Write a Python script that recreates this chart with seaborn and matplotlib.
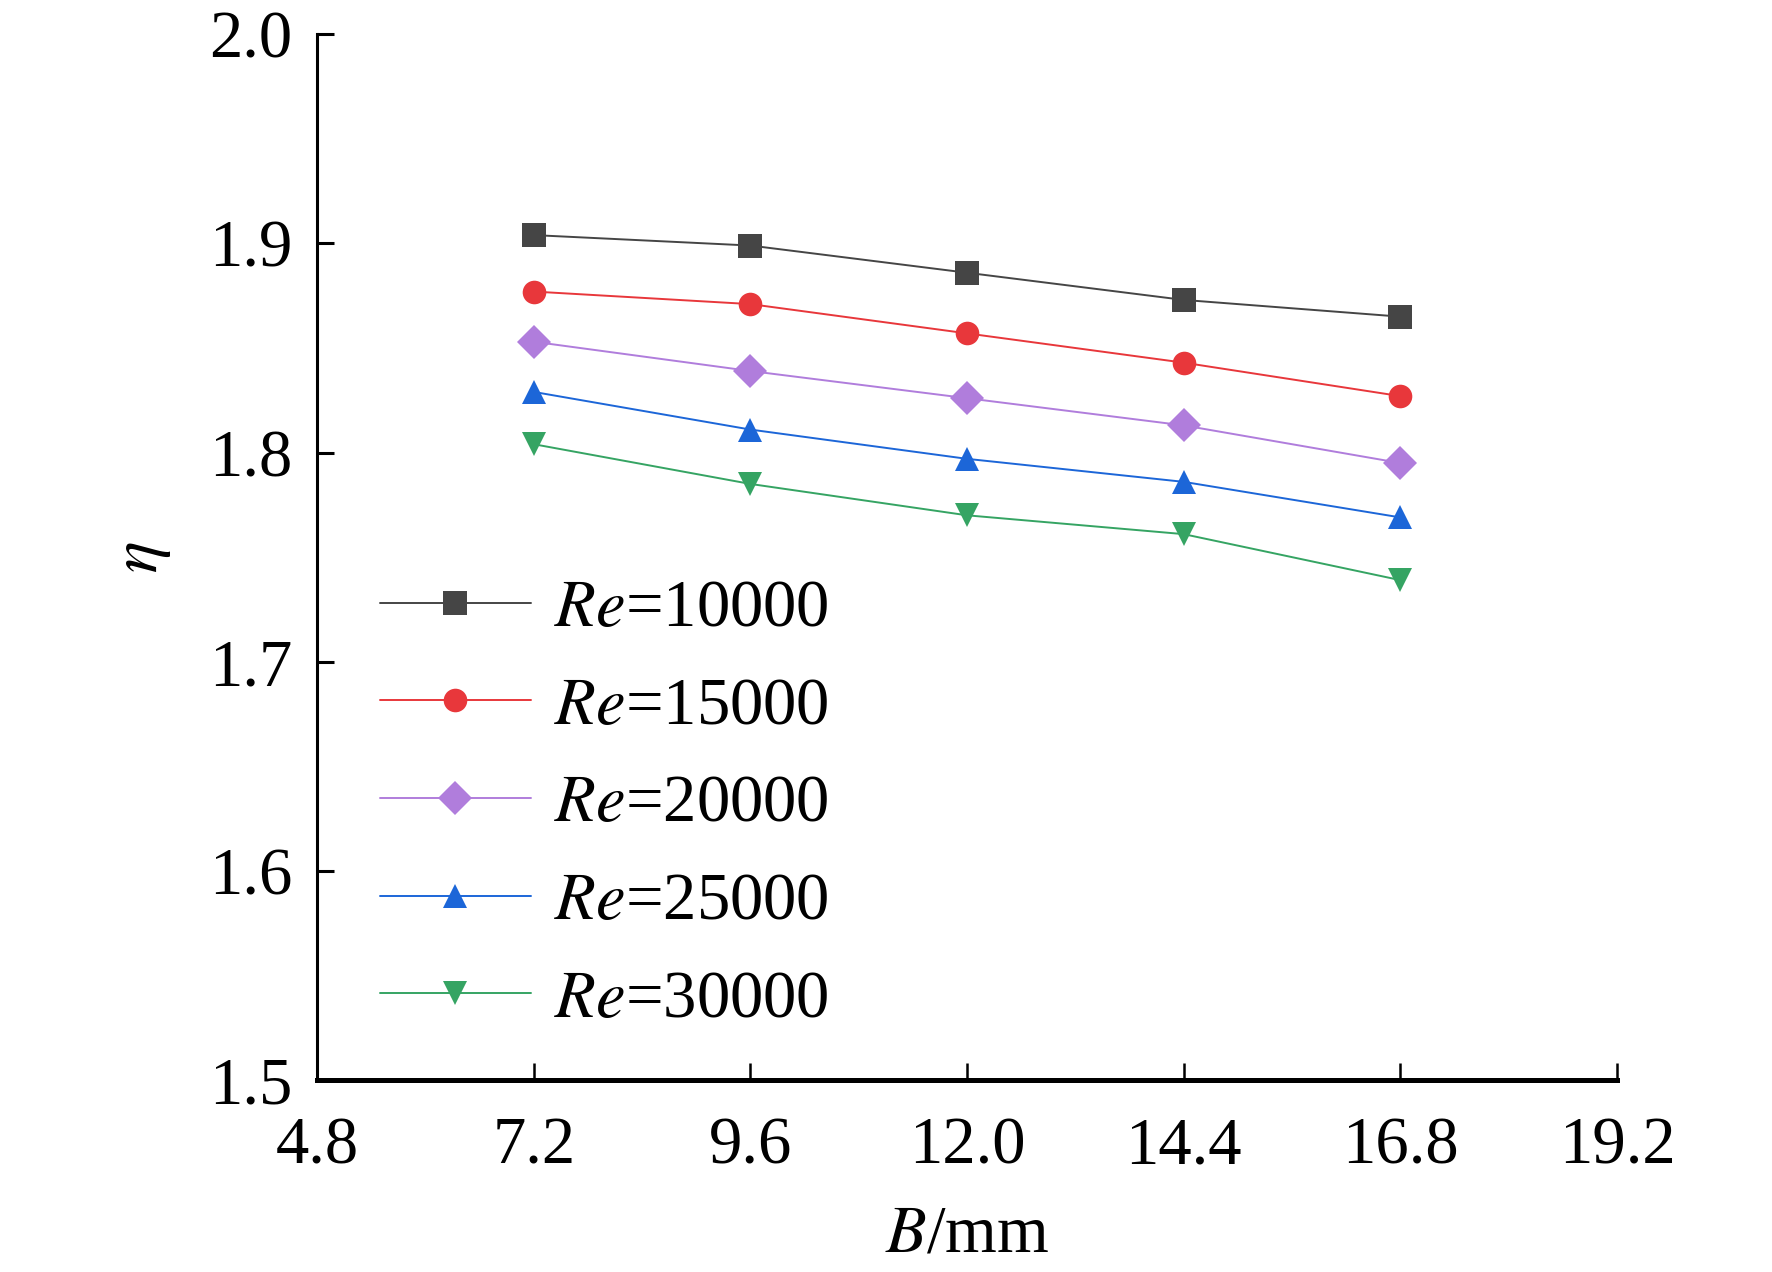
import matplotlib
matplotlib.use("Agg")
import matplotlib.pyplot as plt
import seaborn as sns
import pandas as pd

# data
b_mm = [7.2, 9.6, 12.0, 14.4, 16.8]
re_labels = ["$Re$=10000", "$Re$=15000", "$Re$=20000", "$Re$=25000", "$Re$=30000"]
eta_10000 = [1.904, 1.899, 1.886, 1.873, 1.865]
eta_15000 = [1.877, 1.871, 1.857, 1.843, 1.827]
eta_20000 = [1.853, 1.839, 1.826, 1.813, 1.795]
eta_25000 = [1.829, 1.811, 1.797, 1.786, 1.769]
eta_30000 = [1.804, 1.785, 1.770, 1.761, 1.739]
x_ticks = [4.8, 7.2, 9.6, 12.0, 14.4, 16.8, 19.2]
y_ticks = [1.5, 1.6, 1.7, 1.8, 1.9, 2.0]

colors = ["#454545", "#e8373b", "#b07ddc", "#1c66d8", "#35a463"]
markers = ["s", "o", "D", "^", "v"]

series = [eta_10000, eta_15000, eta_20000, eta_25000, eta_30000]
rows = []
for lab, vals in zip(re_labels, series):
    for b, v in zip(b_mm, vals):
        rows.append({"B": b, "eta": v, "Re": lab})
df = pd.DataFrame(rows)

sns.set_theme(style="white")
plt.rcParams["font.family"] = ["Liberation Serif", "DejaVu Serif"]
plt.rcParams["mathtext.fontset"] = "stix"
plt.rcParams["text.color"] = "black"
plt.rcParams["axes.labelcolor"] = "black"

fig, ax = plt.subplots(figsize=(8.86, 6.36), dpi=200)
fig.subplots_adjust(left=0.179, right=0.9125, top=0.973, bottom=0.151)

sns.lineplot(data=df, x="B", y="eta", hue="Re", style="Re",
             hue_order=re_labels, style_order=re_labels,
             palette=colors, markers=markers, dashes=False,
             linewidth=0.7, markersize=8.5, markeredgewidth=0, ax=ax)

ax.set_xlim(4.8, 19.2)
ax.set_ylim(1.5, 2.0)
ax.set_xticks(x_ticks)
ax.set_xticklabels([f"{t:.1f}" for t in x_ticks])
ax.set_yticks(y_ticks)
ax.set_yticklabels([f"{t:.1f}" for t in y_ticks])

sns.despine(ax=ax)
ax.spines["left"].set_linewidth(1.1)
ax.spines["bottom"].set_linewidth(1.8)
for s in ["left", "bottom"]:
    ax.spines[s].set_color("black")

ax.tick_params(axis="x", bottom=True, direction="in", length=6, width=0.9, pad=13,
               labelsize=24, colors="black")
ax.tick_params(axis="y", left=True, direction="in", length=6, width=1.1, pad=9,
               labelsize=24, colors="black")

ax.set_xlabel("$B$/mm", fontsize=24, labelpad=10)
ax.set_ylabel(r"$\eta$", fontsize=24, labelpad=13)

handles, labels = ax.get_legend_handles_labels()
ax.legend(handles, labels, loc="upper left", bbox_to_anchor=(0.048, 0.479),
          frameon=False, fontsize=24, handlelength=2.27, handletextpad=0.35,
          labelspacing=0.55, borderpad=0, borderaxespad=0)

fig.savefig("out.png", dpi=200)
